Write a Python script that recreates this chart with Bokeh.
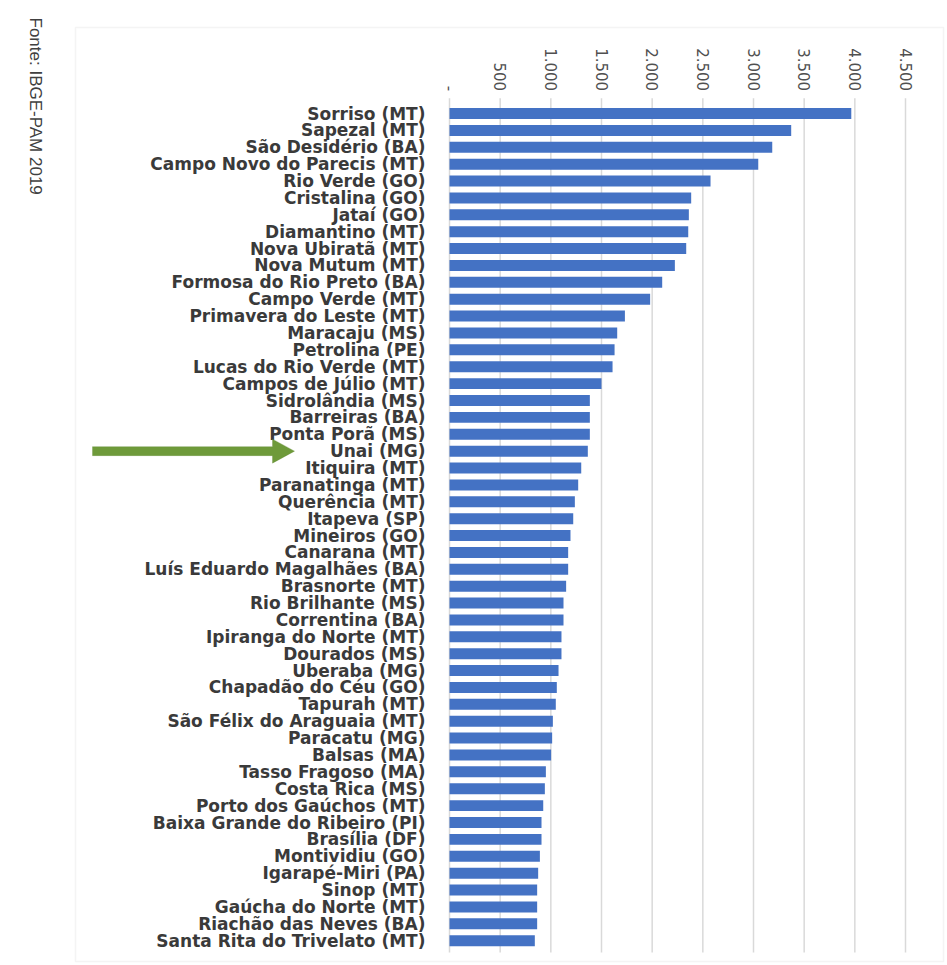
import math
from bokeh.plotting import figure
from bokeh.models import (Range1d, FixedTicker, Label, BoxAnnotation,
                          PolyAnnotation, ColumnDataSource)
from bokeh.embed import file_html
from bokeh.resources import INLINE

municipios = [
    "Sorriso (MT)", "Sapezal (MT)", "São Desidério (BA)", "Campo Novo do Parecis (MT)",
    "Rio Verde (GO)", "Cristalina (GO)", "Jataí (GO)", "Diamantino (MT)",
    "Nova Ubiratã (MT)", "Nova Mutum (MT)", "Formosa do Rio Preto (BA)", "Campo Verde (MT)",
    "Primavera do Leste (MT)", "Maracaju (MS)", "Petrolina (PE)", "Lucas do Rio Verde (MT)",
    "Campos de Júlio (MT)", "Sidrolândia (MS)", "Barreiras (BA)", "Ponta Porã (MS)",
    "Unai (MG)", "Itiquira (MT)", "Paranatinga (MT)", "Querência (MT)",
    "Itapeva (SP)", "Mineiros (GO)", "Canarana (MT)", "Luís Eduardo Magalhães (BA)",
    "Brasnorte (MT)", "Rio Brilhante (MS)", "Correntina (BA)", "Ipiranga do Norte (MT)",
    "Dourados (MS)", "Uberaba (MG)", "Chapadão do Céu (GO)", "Tapurah (MT)",
    "São Félix do Araguaia (MT)", "Paracatu (MG)", "Balsas (MA)", "Tasso Fragoso (MA)",
    "Costa Rica (MS)", "Porto dos Gaúchos (MT)", "Baixa Grande do Ribeiro (PI)", "Brasília (DF)",
    "Montividiu (GO)", "Igarapé-Miri (PA)", "Sinop (MT)", "Gaúcha do Norte (MT)",
    "Riachão das Neves (BA)", "Santa Rita do Trivelato (MT)",
]
producao = [
    3965, 3372, 3185, 3047, 2576, 2385, 2362, 2356, 2336, 2224,
    2099, 1980, 1731, 1655, 1629, 1609, 1500, 1385, 1385, 1385,
    1365, 1300, 1270, 1237, 1221, 1194, 1171, 1171, 1151, 1125,
    1125, 1105, 1105, 1076, 1059, 1049, 1020, 1013, 1003, 951,
    941, 925, 908, 908, 892, 875, 865, 865, 865, 842,
]
tick_values = [0, 500, 1000, 1500, 2000, 2500, 3000, 3500, 4000, 4500]
tick_labels = ["-", "500", "1.000", "1.500", "2.000", "2.500", "3.000", "3.500", "4.000", "4.500"]
fonte = "Fonte: IBGE-PAM 2019"
destaque = "Unai (MG)"

BLUE = "#4472c4"
GREEN = "#6e9a3a"
GREEN_DARK = "#5c8430"

# ---- page layout (pixels) ----
W, H = 947, 965
X0_PX = 449.0                 # pixel where value 0 sits
X_PX_PER_UNIT = 456.0 / 4500  # horizontal scale
TOP_PX = 104.6                # top edge of the first row
ROW_PX = 16.88                # row pitch

n = len(municipios)
posicoes = [n - i - 0.5 for i in range(n)]   # row centres, first item on top


def xd(px):
    return (px - X0_PX) / X_PX_PER_UNIT


def yd(py):
    return n - (py - TOP_PX) / ROW_PX


p = figure(width=W, height=H,
           x_range=Range1d(xd(0), xd(W)), y_range=Range1d(yd(H), yd(0)),
           x_axis_location="above",
           output_backend="svg", toolbar_location=None,
           min_border=0, min_border_left=0, min_border_right=0,
           min_border_top=0, min_border_bottom=0)
p.background_fill_color = "white"
p.border_fill_color = "white"
p.outline_line_color = None
p.xgrid.visible = False
p.ygrid.visible = False

# chart area border
p.add_layout(BoxAnnotation(left=xd(75), right=xd(943), top=yd(27), bottom=yd(961),
                           fill_alpha=0, line_color="#d9d9d9", line_width=1.5,
                           level="underlay"))

# vertical grid lines at the tick values
p.segment(x0=tick_values, x1=tick_values, y0=[-0.2] * len(tick_values),
          y1=[n + 0.4] * len(tick_values), line_color="#d9d9d9", line_width=1.5)

src = ColumnDataSource(dict(pos=posicoes, municipio=municipios, valor=producao))
p.hbar(y="pos", right="valor", left=0, height=0.65, source=src,
       fill_color=BLUE, line_color=None)

# value axis on top, fixed at the top of the bars
xa = p.xaxis[0]
xa.fixed_location = n
xa.ticker = FixedTicker(ticks=tick_values)
xa.major_label_overrides = {v: t for v, t in zip(tick_values, tick_labels)}
xa.major_label_orientation = -math.pi / 2
xa.major_label_text_font = "DejaVu Sans"
xa.major_label_text_font_size = "15px"
xa.major_label_text_color = "#505050"
xa.major_label_standoff = 8
xa.axis_line_color = None
xa.major_tick_line_color = None
xa.minor_tick_line_color = None

# category axis, fixed at value 0
ya = p.yaxis[0]
ya.fixed_location = 0
ya.ticker = FixedTicker(ticks=posicoes)
ya.major_label_overrides = {pos: nome for pos, nome in zip(posicoes, municipios)}
ya.major_label_text_font = "DejaVu Sans"
ya.major_label_text_font_style = "bold"
ya.major_label_text_font_size = "17px"
ya.major_label_text_color = "#3a3a3a"
ya.major_label_standoff = 18
ya.axis_line_color = None
ya.major_tick_line_color = None
ya.minor_tick_line_color = None

# source note
p.add_layout(Label(x=xd(35), y=yd(17), text=fonte, angle=-math.pi / 2,
                   text_align="left", text_baseline="middle",
                   text_font="Liberation Sans", text_font_size="17px",
                   text_color="#404040"))

# highlight arrow pointing at the highlighted municipality
yc = posicoes[municipios.index(destaque)]
x0, xh, x1 = xd(92), xd(272), xd(294)
t, hw = 4.5 / ROW_PX, 12.0 / ROW_PX
p.add_layout(PolyAnnotation(
    xs=[x0, xh, xh, x1, xh, xh, x0],
    ys=[yc + t, yc + t, yc + hw, yc, yc - hw, yc - t, yc - t],
    fill_color=GREEN, fill_alpha=1, line_color=GREEN_DARK, line_width=1))

open("out.html", "w").write(file_html(p, INLINE))
